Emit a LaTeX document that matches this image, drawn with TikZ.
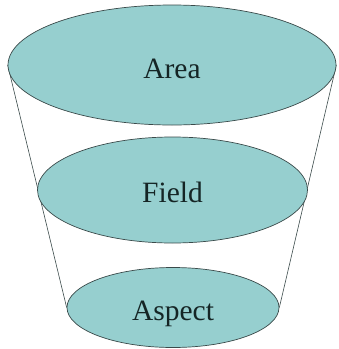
\documentclass[tikz,border=0pt]{standalone}
\usepackage{fontspec}
\setmainfont{Liberation Serif}
\usetikzlibrary{shapes.geometric,backgrounds}
\definecolor{tealfill}{HTML}{96CFCF}
\definecolor{edgec}{HTML}{3A4A4A}
\definecolor{txt}{HTML}{152525}
\newcommand{\lowered}[2]{\raisebox{-#1}[0pt][0pt]{#2}}
\begin{document}
\begin{tikzpicture}[x=1pt,y=-1pt,
  disc/.style={ellipse,fill=tealfill,draw=edgec,line width=0.7pt,inner sep=0pt,
    text=txt,font=\fontsize{29.5}{34}\selectfont},
  side/.style={draw=edgec,line width=0.6pt}]
\useasboundingbox (0,0) rectangle (339,349);
\node[disc,minimum width=328pt,minimum height=120pt] (area) at (172,65) {\lowered{13pt}{Area}};
\node[disc,minimum width=270pt,minimum height=106pt] (field) at (172.5,190) {\lowered{12.5pt}{Field}};
\node[disc,minimum width=212pt,minimum height=80pt] (aspect) at (173,307.5) {\lowered{13pt}{Aspect}};
\begin{scope}[on background layer]
\draw[side] (area.west) -- (aspect.west);
\draw[side] (area.east) -- (aspect.east);
\end{scope}
\end{tikzpicture}
\end{document}
